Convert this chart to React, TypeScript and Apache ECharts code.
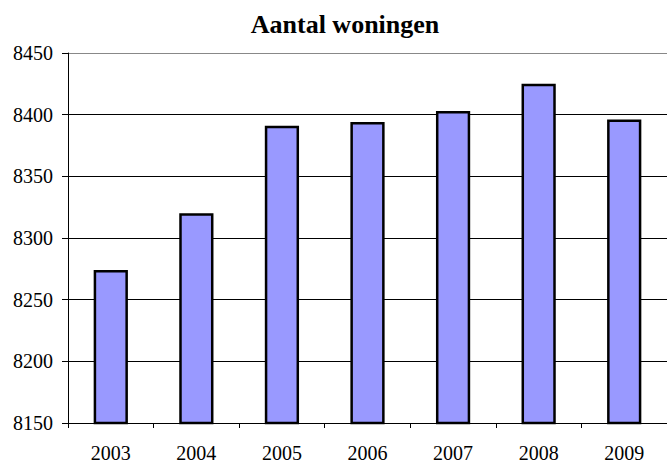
import React, { useEffect, useRef } from "react";
import * as echarts from "echarts";

const years = ["2003", "2004", "2005", "2006", "2007", "2008", "2009"];
const woningen = [8274, 8320, 8391, 8394, 8403, 8425, 8396];
const yMin = 8150;
const yMax = 8450;
const yStep = 50;

const serif = "'Liberation Serif', 'Times New Roman', serif";

export default function App() {
  const ref = useRef<HTMLDivElement>(null);
  useEffect(() => {
    if (!ref.current) return;
    const chart = echarts.init(ref.current, null, { renderer: "svg" });
    chart.setOption({
      animation: false,
      backgroundColor: "#ffffff",
      textStyle: { fontFamily: serif },
      title: {
        text: "Aantal woningen",
        left: 340,
        textAlign: "center",
        top: 6,
        textStyle: {
          fontFamily: serif,
          fontWeight: "bold",
          fontSize: 26,
          color: "#000",
        },
      },
      grid: { left: 68, top: 53, bottom: 38, right: -6, containLabel: false },
      xAxis: {
        type: "category",
        data: years,
        axisLine: { lineStyle: { color: "#000", width: 1 } },
        axisTick: { show: true, length: 5, lineStyle: { color: "#000" } },
        axisLabel: {
          fontFamily: serif,
          fontSize: 20,
          color: "#000",
          margin: 20,
        },
      },
      yAxis: {
        type: "value",
        min: yMin,
        max: yMax,
        interval: yStep,
        axisLine: { show: true, lineStyle: { color: "#000", width: 1 } },
        axisTick: { show: true, length: 6, lineStyle: { color: "#000" } },
        axisLabel: {
          fontFamily: serif,
          fontSize: 20,
          color: "#000",
          margin: 15,
          formatter: (v: number) => String(v),
        },
        splitLine: {
          show: true,
          lineStyle: {
            color: ["#000", "#000", "#000", "#000", "#000", "#000", "#888"],
            width: 1,
          },
        },
      },
      series: [
        {
          type: "bar",
          data: woningen,
          barWidth: "40%",
          itemStyle: {
            color: "#9999ff",
            borderColor: "#000",
            borderWidth: 2.5,
          },
        },
      ],
    });
    return () => chart.dispose();
  }, []);
  return (
    <div
      ref={ref}
      style={{ position: "absolute", left: 0, top: 0, width: 667, height: 463 }}
    />
  );
}
